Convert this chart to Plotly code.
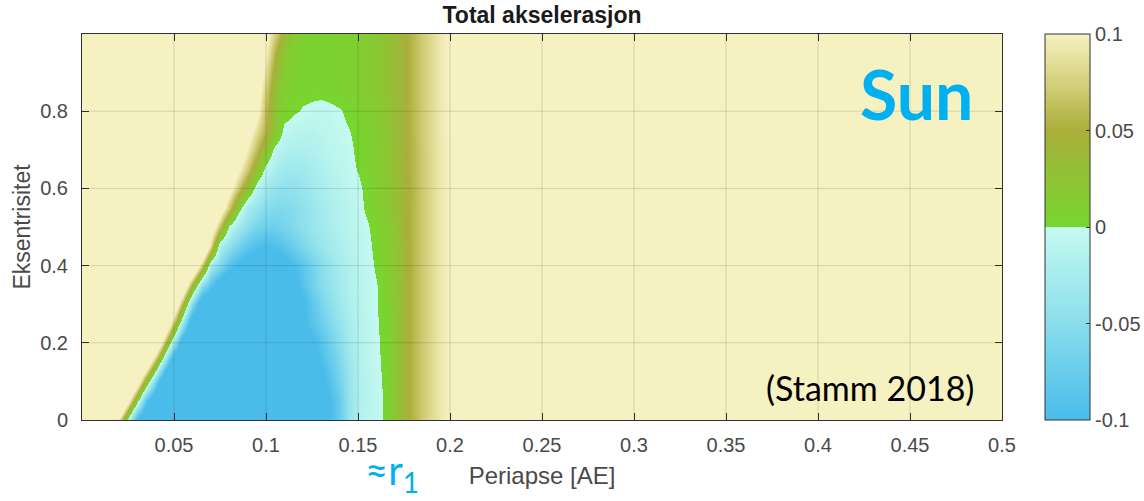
import plotly.graph_objects as go

# ---------------- data ----------------
# periapse [AE] sample columns
x_ae = [0.0,
        0.02, 0.025, 0.03,
        0.035, 0.04, 0.045, 0.05, 0.055,
        0.06, 0.065, 0.07, 0.075, 0.08,
        0.085, 0.09, 0.095, 0.1, 0.105,
        0.11, 0.115, 0.12, 0.125,
        0.13, 0.135, 0.14, 0.145, 0.15,
        0.155, 0.16, 0.165, 0.17, 0.175,
        0.18, 0.185, 0.19, 0.195, 0.2,
        0.5]

# eccentricity rows
ecc = [0.0, 0.05, 0.1, 0.15, 0.2, 0.25, 0.3, 0.35, 0.4, 0.45, 0.5,
       0.55, 0.6, 0.65, 0.7, 0.75, 0.8, 0.85, 0.9, 0.95, 1.0]

# total acceleration, one row per eccentricity (values beyond +-0.1 show the end colours)
acc_e000 = [0.1, 0.09, -0.01, -0.11, -0.14, -0.14, -0.14, -0.14, -0.14, -0.14, -0.14, -0.14, -0.14, -0.14, -0.14, -0.14, -0.14, -0.14, -0.14, -0.14, -0.14, -0.14, -0.14, -0.12, -0.1, -0.075, -0.04, -0.018, -0.01, -0.006, 0.003, 0.02, 0.042, 0.056, 0.07, 0.083, 0.094, 0.1, 0.1]
acc_e005 = [0.1, 0.2, 0.11, 0.01, -0.09, -0.15, -0.14, -0.14, -0.14, -0.14, -0.14, -0.14, -0.14, -0.14, -0.14, -0.14, -0.14, -0.14, -0.14, -0.14, -0.14, -0.14, -0.14, -0.13, -0.1, -0.075, -0.042, -0.02, -0.011, -0.006, 0.003, 0.02, 0.042, 0.056, 0.07, 0.083, 0.094, 0.1, 0.1]
acc_e010 = [0.1, 0.2, 0.2, 0.134, 0.034, -0.066, -0.16, -0.14, -0.14, -0.14, -0.14, -0.14, -0.14, -0.14, -0.14, -0.14, -0.14, -0.14, -0.14, -0.14, -0.14, -0.14, -0.14, -0.11, -0.09, -0.065, -0.038, -0.02, -0.011, -0.005, 0.004, 0.02, 0.042, 0.056, 0.07, 0.083, 0.094, 0.1, 0.1]
acc_e015 = [0.1, 0.2, 0.2, 0.2, 0.15, 0.05, -0.05, -0.15, -0.14, -0.14, -0.14, -0.14, -0.14, -0.14, -0.14, -0.14, -0.14, -0.14, -0.14, -0.14, -0.14, -0.14, -0.12, -0.1, -0.08, -0.058, -0.035, -0.018, -0.01, -0.004, 0.005, 0.02, 0.042, 0.056, 0.07, 0.083, 0.094, 0.1, 0.1]
acc_e020 = [0.1, 0.2, 0.2, 0.2, 0.2, 0.16, 0.06, -0.04, -0.14, -0.14, -0.14, -0.14, -0.14, -0.14, -0.14, -0.14, -0.14, -0.14, -0.14, -0.14, -0.14, -0.12, -0.105, -0.09, -0.07, -0.05, -0.03, -0.016, -0.009, -0.003, 0.006, 0.02, 0.042, 0.056, 0.07, 0.083, 0.094, 0.1, 0.1]
acc_e025 = [0.1, 0.2, 0.2, 0.2, 0.2, 0.2, 0.16, 0.06, -0.04, -0.14, -0.14, -0.14, -0.14, -0.14, -0.14, -0.14, -0.14, -0.14, -0.14, -0.14, -0.12, -0.105, -0.09, -0.075, -0.058, -0.04, -0.025, -0.014, -0.008, -0.002, 0.006, 0.02, 0.042, 0.056, 0.07, 0.083, 0.094, 0.1, 0.1]
acc_e030 = [0.1, 0.2, 0.2, 0.2, 0.2, 0.2, 0.2, 0.15, 0.05, -0.05, -0.14, -0.14, -0.14, -0.14, -0.14, -0.14, -0.14, -0.14, -0.14, -0.14, -0.12, -0.105, -0.085, -0.065, -0.048, -0.033, -0.02, -0.012, -0.007, -0.001, 0.007, 0.021, 0.042, 0.056, 0.07, 0.083, 0.094, 0.1, 0.1]
acc_e035 = [0.1, 0.2, 0.2, 0.2, 0.2, 0.2, 0.2, 0.2, 0.15, 0.05, -0.045, -0.09, -0.12, -0.14, -0.14, -0.14, -0.14, -0.14, -0.14, -0.125, -0.11, -0.09, -0.07, -0.053, -0.04, -0.028, -0.018, -0.011, -0.006, -0.001, 0.008, 0.021, 0.042, 0.056, 0.07, 0.083, 0.094, 0.1, 0.1]
acc_e040 = [0.1, 0.2, 0.2, 0.2, 0.2, 0.2, 0.2, 0.2, 0.2, 0.17, 0.07, -0.03, -0.06, -0.09, -0.105, -0.12, -0.12, -0.12, -0.12, -0.12, -0.1, -0.085, -0.068, -0.052, -0.038, -0.026, -0.017, -0.01, -0.006, 0.002, 0.01, 0.022, 0.042, 0.056, 0.07, 0.083, 0.094, 0.1, 0.1]
acc_e045 = [0.1, 0.2, 0.2, 0.2, 0.2, 0.2, 0.2, 0.2, 0.2, 0.2, 0.18, 0.08, -0.02, -0.045, -0.065, -0.085, -0.095, -0.1, -0.095, -0.085, -0.072, -0.06, -0.048, -0.037, -0.028, -0.02, -0.014, -0.009, -0.004, 0.004, 0.011, 0.022, 0.042, 0.056, 0.07, 0.083, 0.094, 0.1, 0.1]
acc_e050 = [0.1, 0.2, 0.2, 0.2, 0.2, 0.2, 0.2, 0.2, 0.2, 0.2, 0.2, 0.133, 0.063, -0.005, -0.03, -0.05, -0.065, -0.072, -0.072, -0.065, -0.056, -0.047, -0.038, -0.03, -0.023, -0.016, -0.011, -0.007, -0.002, 0.006, 0.013, 0.024, 0.043, 0.056, 0.07, 0.083, 0.094, 0.1, 0.1]
acc_e055 = [0.1, 0.2, 0.2, 0.2, 0.2, 0.2, 0.2, 0.2, 0.2, 0.2, 0.2, 0.19, 0.13, 0.07, 0.012, -0.028, -0.04, -0.052, -0.057, -0.057, -0.052, -0.045, -0.037, -0.029, -0.021, -0.015, -0.01, -0.005, 0.003, 0.01, 0.018, 0.028, 0.043, 0.056, 0.07, 0.083, 0.094, 0.1, 0.1]
acc_e060 = [0.1, 0.2, 0.2, 0.2, 0.2, 0.2, 0.2, 0.2, 0.2, 0.2, 0.2, 0.2, 0.162, 0.117, 0.072, 0.027, -0.012, -0.03, -0.04, -0.045, -0.043, -0.037, -0.03, -0.023, -0.017, -0.012, -0.007, -0.003, 0.004, 0.011, 0.019, 0.029, 0.044, 0.056, 0.07, 0.083, 0.094, 0.1, 0.1]
acc_e065 = [0.1, 0.2, 0.2, 0.2, 0.2, 0.2, 0.2, 0.2, 0.2, 0.2, 0.2, 0.2, 0.19, 0.148, 0.108, 0.068, 0.028, -0.008, -0.022, -0.03, -0.032, -0.03, -0.025, -0.019, -0.013, -0.008, -0.004, 0.001, 0.006, 0.012, 0.02, 0.03, 0.045, 0.057, 0.07, 0.083, 0.094, 0.1, 0.1]
acc_e070 = [0.1, 0.2, 0.2, 0.2, 0.2, 0.2, 0.2, 0.2, 0.2, 0.2, 0.2, 0.2, 0.2, 0.165, 0.13, 0.095, 0.06, 0.025, -0.008, -0.017, -0.02, -0.02, -0.017, -0.013, -0.009, -0.006, -0.003, 0.003, 0.007, 0.013, 0.021, 0.031, 0.045, 0.057, 0.07, 0.083, 0.094, 0.1, 0.1]
acc_e075 = [0.1, 0.2, 0.2, 0.2, 0.2, 0.2, 0.2, 0.2, 0.2, 0.2, 0.2, 0.2, 0.2, 0.174, 0.144, 0.114, 0.084, 0.054, 0.024, -0.005, -0.009, -0.011, -0.011, -0.009, -0.006, -0.003, -0.0005, 0.004, 0.008, 0.014, 0.022, 0.032, 0.046, 0.058, 0.071, 0.084, 0.095, 0.1, 0.1]
acc_e080 = [0.1, 0.2, 0.2, 0.2, 0.2, 0.2, 0.2, 0.2, 0.2, 0.2, 0.2, 0.2, 0.2, 0.2, 0.2, 0.16, 0.11, 0.06, 0.025, 0.008, 0.002, -0.0015, -0.004, -0.006, -0.004, -0.001, 0.003, 0.007, 0.01, 0.015, 0.023, 0.033, 0.046, 0.058, 0.071, 0.084, 0.095, 0.1, 0.1]
acc_e085 = [0.1, 0.2, 0.2, 0.2, 0.2, 0.2, 0.2, 0.2, 0.2, 0.2, 0.2, 0.2, 0.2, 0.2, 0.2, 0.2, 0.12, 0.07, 0.03, 0.01, 0.005, 0.004, 0.004, 0.004, 0.005, 0.007, 0.009, 0.012, 0.015, 0.019, 0.025, 0.034, 0.046, 0.058, 0.071, 0.084, 0.095, 0.1, 0.1]
acc_e090 = [0.1, 0.2, 0.2, 0.2, 0.2, 0.2, 0.2, 0.2, 0.2, 0.2, 0.2, 0.2, 0.2, 0.2, 0.2, 0.2, 0.14, 0.085, 0.04, 0.015, 0.007, 0.005, 0.005, 0.005, 0.006, 0.007, 0.009, 0.012, 0.015, 0.019, 0.025, 0.034, 0.046, 0.058, 0.071, 0.084, 0.095, 0.1, 0.1]
acc_e095 = [0.1, 0.2, 0.2, 0.2, 0.2, 0.2, 0.2, 0.2, 0.2, 0.2, 0.2, 0.2, 0.2, 0.2, 0.2, 0.2, 0.15, 0.1, 0.055, 0.022, 0.009, 0.006, 0.005, 0.005, 0.006, 0.007, 0.009, 0.012, 0.015, 0.019, 0.025, 0.034, 0.046, 0.058, 0.071, 0.084, 0.095, 0.1, 0.1]
acc_e100 = [0.1, 0.2, 0.2, 0.2, 0.2, 0.2, 0.2, 0.2, 0.2, 0.2, 0.2, 0.2, 0.2, 0.2, 0.2, 0.2, 0.17, 0.11, 0.075, 0.04, 0.015, 0.008, 0.006, 0.006, 0.006, 0.007, 0.009, 0.012, 0.015, 0.019, 0.025, 0.034, 0.046, 0.058, 0.071, 0.084, 0.095, 0.1, 0.1]

x_tick_vals = [0.05, 0.1, 0.15, 0.2, 0.25, 0.3, 0.35, 0.4, 0.45, 0.5]
x_tick_text = ["0.05", "0.1", "0.15", "0.2", "0.25", "0.3", "0.35", "0.4", "0.45", "0.5"]
y_tick_vals = [0, 0.2, 0.4, 0.6, 0.8]
y_tick_text = ["0", "0.2", "0.4", "0.6", "0.8"]
cbar_tick_vals = [-0.1, -0.05, 0, 0.05, 0.1]
cbar_tick_text = ["-0.1", "-0.05", "0", "0.05", "0.1"]

# ---------------- figure ----------------
z = [acc_e000, acc_e005, acc_e010, acc_e015, acc_e020, acc_e025, acc_e030,
     acc_e035, acc_e040, acc_e045, acc_e050, acc_e055, acc_e060, acc_e065,
     acc_e070, acc_e075, acc_e080, acc_e085, acc_e090, acc_e095, acc_e100]
for row in z:
    assert len(row) == len(x_ae), len(row)

colorscale = [
    [0.0, "rgb(74,188,234)"],
    [0.25, "rgb(138,222,236)"],
    [0.5, "rgb(197,250,239)"],
    [0.5, "rgb(118,215,46)"],
    [0.62, "rgb(142,196,52)"],
    [0.75, "rgb(170,175,58)"],
    [0.87, "rgb(212,207,122)"],
    [1.0, "rgb(246,241,193)"],
]

AX_FONT = "Liberation Sans, Arial, sans-serif"
TXT_FONT = "Lato, Open Sans, sans-serif"
TICK_COLOR = "#4a4a4a"
LINE_COLOR = "#333333"
PLOT_W = 920

fig = go.Figure(go.Heatmap(
    x=x_ae, y=ecc, z=z, zmin=-0.1, zmax=0.1, zsmooth="best",
    colorscale=colorscale,
    colorbar=dict(
        x=(1045 - 82) / PLOT_W, xanchor="left", xref="paper",
        y=0, yanchor="bottom", len=1, lenmode="fraction",
        thickness=45, thicknessmode="pixels",
        xpad=0, ypad=0,
        outlinewidth=1, outlinecolor=LINE_COLOR,
        tickvals=cbar_tick_vals, ticktext=cbar_tick_text,
        ticks="inside", ticklen=4, tickcolor=LINE_COLOR,
        tickfont=dict(family=AX_FONT, size=20, color=TICK_COLOR),
    ),
    hoverinfo="skip",
))

shapes = []
for xv in x_tick_vals[:-1]:
    shapes.append(dict(type="line", xref="x", yref="y", x0=xv, x1=xv, y0=0, y1=1,
                       line=dict(color="rgba(0,0,0,0.13)", width=1), layer="above"))
for yv in y_tick_vals[1:]:
    shapes.append(dict(type="line", xref="x", yref="y", x0=0, x1=0.5, y0=yv, y1=yv,
                       line=dict(color="rgba(0,0,0,0.13)", width=1), layer="above"))

fig.update_layout(
    width=1144, height=501,
    margin=dict(l=82, r=1144 - 82 - PLOT_W, t=34, b=81, pad=0, autoexpand=False),
    paper_bgcolor="white", plot_bgcolor="white",
    showlegend=False,
    title=dict(text="<b>Total akselerasjon</b>", x=0.5, xref="paper",
               y=1 - 15 / 501, yanchor="middle", xanchor="center",
               font=dict(family=AX_FONT, size=23, color="#1a1a1a")),
    shapes=shapes,
    annotations=[
        dict(text="<b>Sun</b>", x=0.9076, y=0.845, xref="paper", yref="paper",
             xanchor="center", yanchor="middle", showarrow=False,
             font=dict(family=TXT_FONT, size=68, color="#00B0F0")),
        dict(text="(Stamm 2018)", x=0.8565, y=0.083, xref="paper", yref="paper",
             xanchor="center", yanchor="middle", showarrow=False,
             font=dict(family=TXT_FONT, size=34, color="black")),
        dict(text="≈r<sub>1</sub>", x=0.337, y=-0.137, xref="paper", yref="paper",
             xanchor="center", yanchor="middle", showarrow=False,
             font=dict(family=TXT_FONT, size=40, color="#00B0F0")),
    ],
)

fig.update_xaxes(
    range=[0, 0.5], tickvals=x_tick_vals, ticktext=x_tick_text,
    ticks="inside", ticklen=7, tickcolor=LINE_COLOR, tickwidth=1,
    showline=True, linecolor=LINE_COLOR, linewidth=1, mirror="ticks",
    showgrid=False, zeroline=False,
    tickfont=dict(family=AX_FONT, size=20, color=TICK_COLOR),
    ticklabelstandoff=7,
    title=dict(text="Periapse [AE]", standoff=12,
               font=dict(family=AX_FONT, size=24, color=TICK_COLOR)),
)
fig.update_yaxes(
    range=[0, 1], tickvals=y_tick_vals, ticktext=y_tick_text,
    ticks="inside", ticklen=7, tickcolor=LINE_COLOR, tickwidth=1,
    showline=True, linecolor=LINE_COLOR, linewidth=1, mirror="ticks",
    showgrid=False, zeroline=False,
    tickfont=dict(family=AX_FONT, size=20, color=TICK_COLOR),
    ticklabelstandoff=9,
    title=dict(text="Eksentrisitet", standoff=3,
               font=dict(family=AX_FONT, size=23, color=TICK_COLOR)),
)

fig.write_html("out.html")
